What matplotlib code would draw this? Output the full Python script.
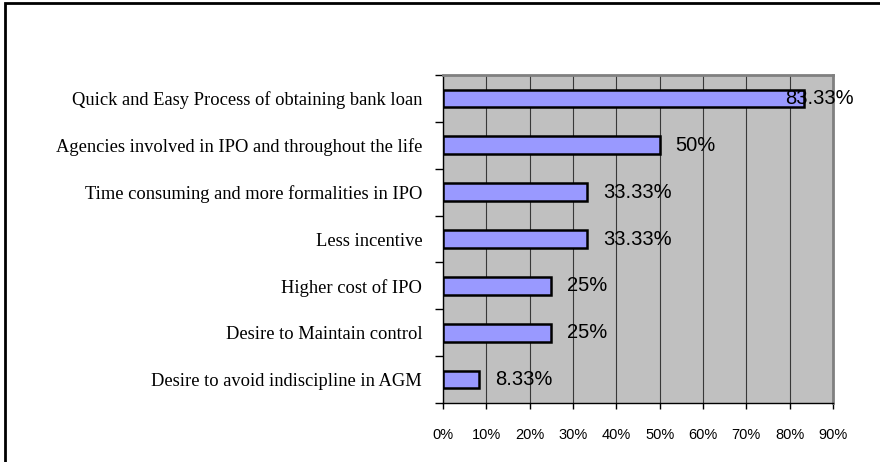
import numpy as np
import matplotlib.pyplot as plt
from matplotlib.patches import Rectangle

# raisons citées, du bas vers le haut
raisons = ['Desire to avoid indiscipline in AGM',
           'Desire to Maintain control',
           'Higher cost of IPO',
           'Less incentive',
           'Time consuming and more formalities in IPO',
           'Agencies involved in IPO and throughout the life',
           'Quick and Easy Process of obtaining bank loan']
pourcent = [8.33, 25, 25, 33.33, 33.33, 50, 83.33]
etiquettes = ['8.33%', '25%', '25%', '33.33%', '33.33%', '50%', '83.33%']
graduations = [0, 10, 20, 30, 40, 50, 60, 70, 80, 90]

fig = plt.figure(figsize=(8.8, 4.62), dpi=100)
ax = fig.add_axes([443/880, 1 - 403/462, 390/880, 328/462])

y = np.arange(len(raisons))
ax.barh(y, pourcent, height=0.38, color='#9999FF', edgecolor='black', linewidth=1.8, zorder=3)

ax.set_facecolor('#C0C0C0')
ax.set_xlim(0, 90)
ax.set_ylim(-0.5, len(raisons) - 0.5)
ax.set_xticks(graduations)
ax.set_xticklabels([f'{g}%' for g in graduations], fontsize=10.5, family='Liberation Sans')
ax.tick_params(axis='x', direction='out', length=4, width=1, pad=14)
ax.xaxis.grid(True, color='#383838', linewidth=0.8, zorder=1)

ax.set_yticks(y)
ax.set_yticklabels(raisons, fontsize=13.3, family='Liberation Serif')
ax.set_yticks(np.arange(len(raisons) + 1) - 0.5, minor=True)
ax.tick_params(axis='y', which='major', length=0, pad=15)
ax.tick_params(axis='y', which='minor', direction='out', length=6, width=1)

for c in ['top', 'right']:
    ax.spines[c].set_color('#808080')
    ax.spines[c].set_linewidth(2)
for c in ['left', 'bottom']:
    ax.spines[c].set_color('black')
    ax.spines[c].set_linewidth(1)

# étiquettes de valeur, ramenées à gauche si elles sortent du cadre
x_max_etiq = 78.9
for yi, v, t in zip(y, pourcent, etiquettes):
    xe = min(v + 3.7, x_max_etiq)
    ax.text(xe, yi, t, va='center', ha='left', fontsize=14.5, family='Liberation Sans', zorder=4)

# cadre de la zone du graphique
fig.patches.append(Rectangle((5/880, -0.1), 1.2, 1 - 3/462 + 0.1, transform=fig.transFigure,
                             fill=False, edgecolor='black', linewidth=2))

plt.savefig('out.png', dpi=100)
